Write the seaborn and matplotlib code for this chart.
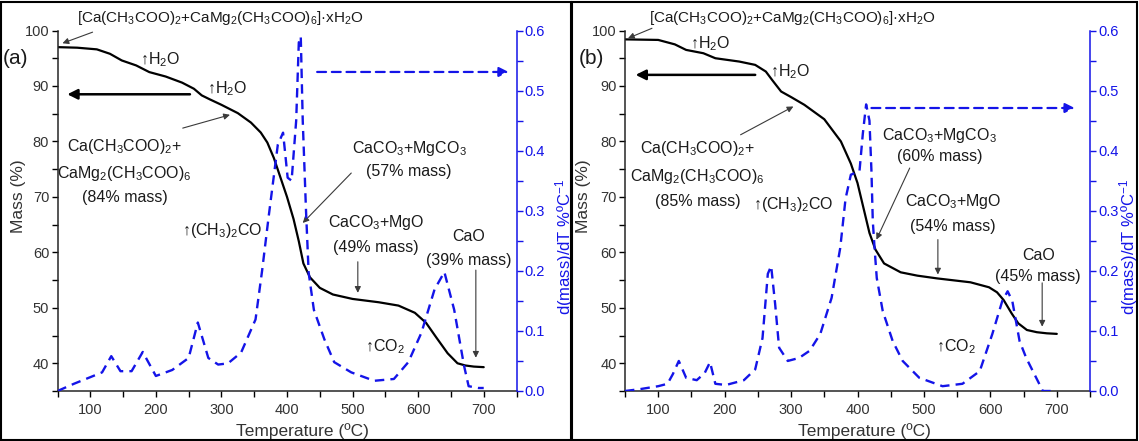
import numpy as np
import matplotlib
matplotlib.use("Agg")
import matplotlib.pyplot as plt
import seaborn as sns
from matplotlib.patches import Rectangle
from matplotlib.ticker import FormatStrFormatter

# ---------------- data ----------------
# Panel (a): TG curve
temp_tg_a = [50, 80, 110, 130, 148, 170, 190, 215, 240, 258, 270, 282, 300, 325, 345, 360,
             370, 380, 390, 400, 410, 418, 425, 435, 450, 470, 500, 540, 570, 595, 612,
             628, 645, 660, 672, 685, 700]
mass_a = [97.0, 96.9, 96.6, 95.8, 94.6, 93.7, 92.5, 91.7, 90.6, 89.5, 88.3, 87.6, 86.6, 85.1,
          83.4, 81.6, 79.8, 77.0, 73.5, 70.0, 66.0, 62.0, 58.0, 55.5, 53.6, 52.4, 51.6, 51.0,
          50.4, 49.1, 47.3, 44.6, 41.8, 40.0, 39.6, 39.4, 39.3]
# Panel (a): DTG curve
temp_dtg_a = [50, 75, 100, 118, 132, 146, 163, 180, 200, 225, 250, 264, 280, 295, 310, 330,
              352, 362, 372, 386, 394, 401, 407, 414, 418, 421, 424, 429, 433, 441, 457, 472,
              498, 533, 563, 585, 605, 625, 640, 655, 670, 677, 692, 700]
dtg_a = [0.0, 0.012, 0.023, 0.031, 0.058, 0.033, 0.033, 0.065, 0.025, 0.035, 0.055, 0.114,
         0.055, 0.044, 0.046, 0.064, 0.119, 0.20, 0.29, 0.41, 0.43, 0.355, 0.35, 0.45, 0.58,
         0.59, 0.45, 0.30, 0.197, 0.135, 0.086, 0.048, 0.031, 0.017, 0.020, 0.048, 0.097,
         0.169, 0.198, 0.135, 0.042, 0.008, 0.005, 0.005]

# Panel (b): TG curve
temp_tg_b = [50, 100, 125, 142, 168, 186, 222, 246, 262, 272, 285, 300, 320, 350, 375, 390,
             400, 410, 418, 427, 440, 465, 490, 520, 570, 598, 610, 620, 632, 642, 655, 670,
             685, 700]
mass_b = [98.4, 98.3, 97.5, 96.5, 95.9, 95.0, 94.4, 93.8, 92.6, 91.0, 89.0, 88.0, 86.6, 84.0,
          80.0, 76.0, 72.5, 67.5, 63.5, 60.5, 58.0, 56.4, 55.8, 55.3, 54.6, 53.7, 52.8, 51.4,
          49.0, 47.2, 46.0, 45.6, 45.4, 45.3]
# Panel (b): DTG curve
temp_dtg_b = [50, 72, 100, 114, 122, 131, 142, 158, 170, 178, 186, 202, 229, 246, 257, 265,
              270, 276, 282, 295, 312, 328, 344, 361, 374, 382, 390, 403, 408, 413, 418, 421,
              423, 426, 429, 438, 453, 468, 493, 528, 558, 584, 603, 618, 626, 633, 644, 654,
              669, 679, 700]
dtg_b = [0.0, 0.003, 0.008, 0.012, 0.028, 0.050, 0.022, 0.018, 0.030, 0.048, 0.012, 0.010,
         0.018, 0.036, 0.088, 0.195, 0.208, 0.145, 0.072, 0.050, 0.055, 0.067, 0.095, 0.155,
         0.238, 0.32, 0.36, 0.366, 0.428, 0.477, 0.45, 0.366, 0.283, 0.233, 0.188, 0.133,
         0.083, 0.050, 0.022, 0.008, 0.012, 0.033, 0.095, 0.150, 0.166, 0.150, 0.083, 0.055,
         0.022, 0.0, 0.0]

x_ticks = [100, 200, 300, 400, 500, 600, 700]
mass_ticks = [40, 50, 60, 70, 80, 90, 100]
dtg_ticks = [0.0, 0.1, 0.2, 0.3, 0.4, 0.5, 0.6]

title_text = "[Ca(CH$_3$COO)$_2$+CaMg$_2$(CH$_3$COO)$_6$]·xH$_2$O"
precursor_lines = ["Ca(CH$_3$COO)$_2$+", "CaMg$_2$(CH$_3$COO)$_6$"]
pct_a = ["(84% mass)", "(57% mass)", "(49% mass)", "(39% mass)"]
pct_b = ["(85% mass)", "(60% mass)", "(54% mass)", "(45% mass)"]

BLUE = "#1414e8"
GREY = "#333333"

sns.set_style("ticks")
plt.rcParams['font.family'] = ['Liberation Sans', 'DejaVu Sans']
plt.rcParams['mathtext.default'] = 'regular'

fig = plt.figure(figsize=(11.39, 4.41), dpi=100)

W, H = 1139.0, 441.0
AX_BOT, AX_TOP = 391.0, 30.5


def make_axes(left_px, right_px):
    return fig.add_axes([left_px / W, 1 - AX_BOT / H, (right_px - left_px) / W,
                         (AX_BOT - AX_TOP) / H])


def thin_arrow(ax, tail, head):
    ax.annotate("", xy=head, xytext=tail, annotation_clip=False,
                arrowprops=dict(arrowstyle="-|>", color="#3a3a3a", lw=0.8,
                                mutation_scale=9, shrinkA=0, shrinkB=0))


def txt(ax, x, y, s, fs=11.5):
    ax.text(x, y, s, ha="center", va="center", fontsize=fs, color="#1a1a1a", clip_on=False)


def draw_panel(ax, T, m, Td, d, cfg):
    ax2 = ax.twinx()
    sns.lineplot(x=T, y=m, ax=ax, color="black", lw=1.6, sort=False, estimator=None)
    sns.lineplot(x=Td, y=d, ax=ax2, color=BLUE, lw=1.7, sort=False, estimator=None,
                 linestyle=(0, (4, 2.6)))

    ax.set_xlim(50, 750)
    ax.set_ylim(35, 100)
    ax2.set_ylim(0, 0.6)
    ax.set_xticks(x_ticks)
    ax.set_xticks(np.arange(50, 751, 100), minor=True)
    ax.set_yticks(mass_ticks)
    ax.set_yticks(np.arange(35, 100, 10), minor=True)
    ax2.set_yticks(dtg_ticks)
    ax2.set_yticks(np.arange(0.05, 0.6, 0.1), minor=True)
    ax2.yaxis.set_major_formatter(FormatStrFormatter('%.1f'))

    for a in (ax, ax2):
        a.spines['top'].set_visible(False)
    ax.spines['right'].set_visible(False)
    ax2.spines['left'].set_visible(False)
    ax2.spines['bottom'].set_visible(False)
    ax.spines['left'].set_linewidth(1.1)
    ax.spines['bottom'].set_linewidth(1.1)
    ax2.spines['right'].set_color(BLUE)
    ax2.spines['right'].set_linewidth(1.1)

    ax.tick_params(which="both", direction="out", length=4, width=1, color="black",
                   labelsize=10.5, labelcolor=GREY)
    ax.tick_params(axis="x", pad=5)
    ax.tick_params(axis="y", pad=2)
    ax2.tick_params(which="both", direction="out", length=4, width=1, color=BLUE,
                    labelsize=10.5, labelcolor=BLUE, pad=2)

    ax.set_xlabel("Temperature (ºC)", fontsize=12.5, color=GREY)
    ax.set_ylabel("Mass (%)", fontsize=12.5, color=GREY)
    ax2.set_ylabel("d(mass)/dT %ºC$^{-1}$", fontsize=12, color=BLUE)
    ax.xaxis.set_label_coords(cfg["xlab"], -0.088)
    ax.yaxis.set_label_coords(cfg["ylab"], 0.54)
    ax2.yaxis.set_label_coords(cfg["y2lab"], 0.40)

    # formula with pointer to the start of the curve
    txt(ax, cfg["top"][0], cfg["top"][1], title_text, fs=11)
    thin_arrow(ax, cfg["top_arrow"][0], cfg["top_arrow"][1])

    # water release
    txt(ax, *cfg["h2o1"], "↑H$_2$O")
    txt(ax, *cfg["h2o2"], "↑H$_2$O")

    # axis arrows
    ax.annotate("", xy=cfg["black_arrow"][1], xytext=cfg["black_arrow"][0],
                arrowprops=dict(arrowstyle="-|>", color="black", lw=1.8,
                                mutation_scale=15, shrinkA=0, shrinkB=0))
    ax2.annotate("", xy=cfg["blue_arrow"][1], xytext=cfg["blue_arrow"][0],
                 annotation_clip=False,
                 arrowprops=dict(arrowstyle="-|>", color=BLUE, lw=1.6, ls=(0, (4, 2.6)),
                                 mutation_scale=14, shrinkA=0, shrinkB=0))

    # precursor block
    bx, by = cfg["block"]
    txt(ax, bx, by[0], precursor_lines[0])
    txt(ax, bx, by[1], precursor_lines[1])
    txt(ax, bx, by[2], cfg["pct"][0])
    thin_arrow(ax, cfg["block_arrow"][0], cfg["block_arrow"][1])

    # acetone
    txt(ax, *cfg["acetone"], "↑(CH$_3$)$_2$CO")

    # carbonates
    cx, cy = cfg["carb"]
    txt(ax, cx, cy[0], "CaCO$_3$+MgCO$_3$")
    txt(ax, cx, cy[1], cfg["pct"][1])
    thin_arrow(ax, cfg["carb_arrow"][0], cfg["carb_arrow"][1])

    # CaCO3 + MgO
    mx, my = cfg["mgo"]
    txt(ax, mx, my[0], "CaCO$_3$+MgO")
    txt(ax, mx, my[1], cfg["pct"][2])
    thin_arrow(ax, cfg["mgo_arrow"][0], cfg["mgo_arrow"][1])

    # CaO
    ox, oy = cfg["cao"]
    txt(ax, ox, oy[0], "CaO")
    txt(ax, ox, oy[1], cfg["pct"][3])
    thin_arrow(ax, cfg["cao_arrow"][0], cfg["cao_arrow"][1])

    # CO2
    txt(ax, *cfg["co2"], "↑CO$_2$")
    return ax2


cfg_a = dict(
    xlab=0.534, ylab=-0.069, y2lab=1.080,
    top=(299, 102.25), top_arrow=((103.5, 99.7), (57.6, 97.7)),
    h2o1=(206, 94.7), h2o2=(308, 89.6),
    black_arrow=((252, 88.5), (65, 88.5)),
    blue_arrow=((446, 0.531), (738, 0.531)),
    block=(152, [79.1, 74.3, 69.8]), block_arrow=((241, 82.4), (313, 84.8)),
    acetone=(302, 64.0),
    carb=(586, [78.8, 74.6]), carb_arrow=((498, 74.3), (424, 65.3)),
    mgo=(536, [65.3, 60.8]), mgo_arrow=((508, 58.3), (508, 52.7)),
    cao=(677, [62.8, 58.6]), cao_arrow=((688, 56.8), (688, 41.0)),
    co2=(550, 43.0), pct=pct_a,
)
cfg_b = dict(
    xlab=0.515, ylab=-0.073, y2lab=1.059,
    top=(302.6, 102.2), top_arrow=((90.6, 100.4), (54.5, 98.6)),
    h2o1=(178, 97.7), h2o2=(298, 92.6),
    black_arrow=((246, 92.0), (66, 92.0)),
    blue_arrow=((421, 0.471), (727, 0.471)),
    block=(159, [78.8, 73.7, 69.2]), block_arrow=((224, 81.2), (303.5, 86.3)),
    acetone=(303, 68.7),
    carb=(524, [81.0, 77.3]), carb_arrow=((478.6, 75.2), (428.5, 62.3)),
    mgo=(544, [69.2, 64.6]), mgo_arrow=((521, 62.3), (521, 56.0)),
    cao=(672, [59.5, 55.6]), cao_arrow=((678, 54.5), (678, 46.6)),
    co2=(547.5, 43.0), pct=pct_b,
)

ax_a = make_axes(57.5, 516.5)
draw_panel(ax_a, temp_tg_a, mass_a, temp_dtg_a, dtg_a, cfg_a)
ax_b = make_axes(625, 1090)
draw_panel(ax_b, temp_tg_b, mass_b, temp_dtg_b, dtg_b, cfg_b)

fig.text(3 / W, 1 - 59 / H, "(a)", fontsize=15, ha="left", va="center", color="#1a1a1a")
fig.text(579 / W, 1 - 59 / H, "(b)", fontsize=15, ha="left", va="center", color="#1a1a1a")

# panel frames
fig.add_artist(Rectangle((1 / W, 1 / H), 570 / W, 438 / H, transform=fig.transFigure,
                         fill=False, lw=1.5, ec="black"))
fig.add_artist(Rectangle((572 / W, 1 / H), 565 / W, 438 / H, transform=fig.transFigure,
                         fill=False, lw=1.5, ec="black"))

fig.savefig("out.png", dpi=100)
